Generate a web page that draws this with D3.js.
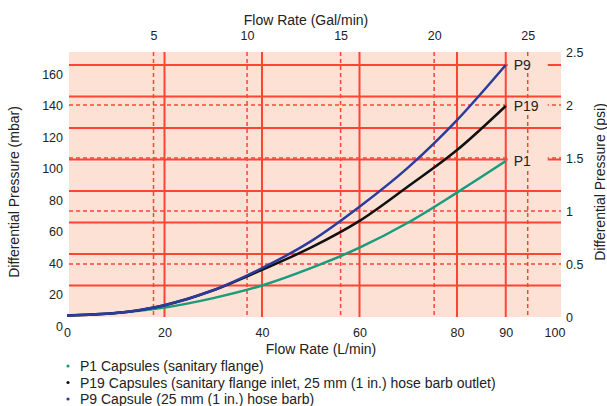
<!DOCTYPE html>
<html>
<head>
<meta charset="utf-8">
<script src="https://cdn.jsdelivr.net/npm/d3@7"></script>
<style>
    body { margin: 0; background: #fff; }
    text { font-family: "Liberation Sans", Arial, sans-serif; fill: #222; }
    .tick text { font-size: 12.5px; }
    .grid-solid { stroke: #ff4434; stroke-width: 2; }
    .grid-dash { stroke: #ff4434; stroke-width: 1.5; stroke-dasharray: 4,3; }
    .series { fill: none; stroke-width: 2.5; }
</style>
</head>
<body>
<script>
var w = 607;
var h = 406;

// data
var flowLpm = [0, 10, 20, 30, 40, 50, 60, 70, 80, 90];
var p1 = [1, 2.5, 6, 12, 20, 31, 44, 60, 79, 99];
var p19 = [1, 2.5, 7.5, 17, 30, 44, 61, 83, 106, 134];
var p9 = [1, 2.5, 7.5, 17, 31, 48, 70, 95, 125, 160];

var seriesNames = ["P1", "P19", "P9"];
var seriesColors = ["#199b7c", "#111111", "#2b3c9c"];
var legendLabels = [
    "P1 Capsules (sanitary flange)",
    "P19 Capsules (sanitary flange inlet, 25 mm (1 in.) hose barb outlet)",
    "P9 Capsule (25 mm (1 in.) hose barb)"
];

var lpmTicks = [0, 20, 40, 60, 80, 90, 100];
var galTicks = [5, 10, 15, 20, 25];
var mbarTicks = [0, 20, 40, 60, 80, 100, 120, 140, 160];
var psiTicks = [0, 0.5, 1, 1.5, 2, 2.5];

var plot = {left: 69, right: 561, top: 52, bottom: 317};

var svg = d3.select("body")
    .append("svg")
    .attr("width", w)
    .attr("height", h);

var xScale = d3.scaleLinear()
    .domain([0, 100])
    .range([67, 554.5]);

var galScale = d3.scaleLinear()
    .domain([5, 25])
    .range([153.5, 527.7]);

var yScale = d3.scaleLinear()
    .domain([0, 160])
    .range([plot.bottom, 65]);

var psiScale = d3.scaleLinear()
    .domain([0, 2.5])
    .range([plot.bottom, plot.top]);

//background
svg.append("rect")
    .attr("x", plot.left)
    .attr("y", plot.top)
    .attr("width", plot.right - plot.left)
    .attr("height", plot.bottom - plot.top)
    .attr("fill", "#fde1d5");

//grid
var grid = svg.append("g");

grid.selectAll(".hs")
    .data(mbarTicks.filter(d => d > 0))
    .enter()
    .append("line")
    .attr("class", "grid-solid")
    .attr("x1", plot.left).attr("x2", plot.right)
    .attr("y1", d => yScale(d)).attr("y2", d => yScale(d));

grid.selectAll(".hd")
    .data(psiTicks.filter(d => d > 0 && d < 2.5))
    .enter()
    .append("line")
    .attr("class", "grid-dash")
    .attr("x1", plot.left).attr("x2", plot.right)
    .attr("y1", d => psiScale(d)).attr("y2", d => psiScale(d));

grid.selectAll(".vd")
    .data(galTicks)
    .enter()
    .append("line")
    .attr("class", "grid-dash")
    .attr("y1", plot.top).attr("y2", plot.bottom)
    .attr("x1", d => galScale(d)).attr("x2", d => galScale(d));

grid.selectAll(".vs")
    .data(lpmTicks.filter(d => d > 0 && d < 100))
    .enter()
    .append("line")
    .attr("class", "grid-solid")
    .attr("y1", plot.top).attr("y2", plot.bottom)
    .attr("x1", d => xScale(d)).attr("x2", d => xScale(d));

//curves
var allSeries = [p1, p19, p9];
var line = d3.line()
    .x((d, i) => xScale(flowLpm[i]))
    .y(d => yScale(d))
    .curve(d3.curveMonotoneX);

svg.selectAll(".series")
    .data(allSeries)
    .enter()
    .append("path")
    .attr("class", "series")
    .attr("stroke", (d, i) => seriesColors[i])
    .attr("d", line);

//end labels
var endLabels = svg.append("g");
allSeries.forEach(function(s, i) {
    var y = yScale(s[s.length - 1]);
    endLabels.append("rect")
        .attr("x", xScale(90) + 2)
        .attr("y", y - 8)
        .attr("width", 40)
        .attr("height", 16)
        .attr("fill", "#fde1d5");
    endLabels.append("text")
        .text(seriesNames[i])
        .attr("x", xScale(90) + 8)
        .attr("y", y + 5)
        .attr("font-size", "14px");
});

//axes
var xAxis = d3.axisBottom(xScale).tickValues(lpmTicks).tickSize(0).tickPadding(11);
var topAxis = d3.axisTop(galScale).tickValues(galTicks).tickSize(0).tickPadding(12);
var yAxis = d3.axisLeft(yScale).tickValues(mbarTicks).tickSize(0).tickPadding(6);
var psiAxis = d3.axisRight(psiScale).tickValues(psiTicks).tickSize(0).tickPadding(5)
    .tickFormat(d3.format("~g"));

svg.append("g")
    .attr("transform", "translate(0," + plot.bottom + ")")
    .call(xAxis)
    .call(g => g.select(".domain").remove());

svg.append("g")
    .attr("transform", "translate(0," + plot.top + ")")
    .call(topAxis)
    .call(g => g.select(".domain").remove());

svg.append("g")
    .attr("transform", "translate(" + plot.left + ",0)")
    .call(yAxis)
    .call(g => g.select(".domain").remove())
    .call(g => g.selectAll("text").attr("y", 9).attr("x", -6)); // labels sit a bit below their lines

svg.append("g")
    .attr("transform", "translate(" + plot.right + ",0)")
    .call(psiAxis)
    .call(g => g.select(".domain").remove());

svg.selectAll(".tick text").attr("fill", "#222");

//titles
var titles = svg.append("g")
    .attr("text-anchor", "middle")
    .attr("font-size", "14px");

titles.append("text")
    .text("Flow Rate (Gal/min)")
    .attr("x", 306)
    .attr("y", 25);

titles.append("text")
    .text("Flow Rate (L/min)")
    .attr("x", 321)
    .attr("y", 354);

titles.append("text")
    .text("Differential Pressure (mbar)")
    .attr("transform", "translate(19,192) rotate(-90)");

titles.append("text")
    .text("Differential Pressure (psi)")
    .attr("transform", "translate(605,182) rotate(-90)");

//legend
var legend = svg.append("g")
    .attr("font-size", "14px");

legendLabels.forEach(function(t, i) {
    var y = 366 + i * 16.5;
    legend.append("circle")
        .attr("cx", 68)
        .attr("cy", y)
        .attr("r", 1.6)
        .attr("fill", seriesColors[i]);
    legend.append("text")
        .text(t)
        .attr("x", 80)
        .attr("y", y + 5);
});
</script>
</body>
</html>
